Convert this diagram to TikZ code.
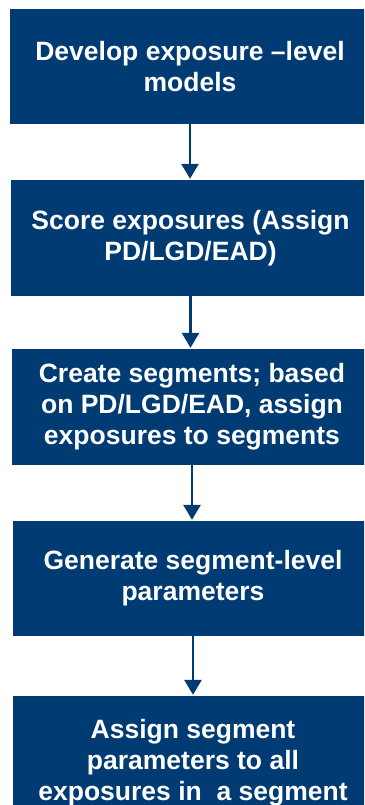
\documentclass[tikz,border=0pt]{standalone}
\usepackage{fontspec}
\setmainfont{Liberation Sans}
\usetikzlibrary{arrows.meta}
\definecolor{navy}{RGB}{0,59,115}
\tikzset{
  stepbox/.style={fill=navy, draw=none, text=white, inner sep=0pt,
    minimum width=360pt, align=center,
    font=\fontsize{26.5}{31}\selectfont\bfseries},
  flow/.style={draw=navy, line width=2.8pt,
    -{Triangle[width=17pt,length=15pt]}, shorten >=1pt}
}
\begin{document}
\begin{tikzpicture}[x=1pt,y=-1pt]
  \useasboundingbox (0,0) rectangle (364,805);
  \begin{scope}
    \clip (0,0) rectangle (364,805);
    \node[stepbox, minimum height=115pt] (b1) at (190,66.5)
      {Develop exposure --level\\models};
    \node[stepbox, minimum height=116pt] (b2) at (190.5,238)
      {Score exposures (Assign\\PD/LGD/EAD)};
    \node[stepbox, minimum height=116pt] (b3) at (192,407)
      {Create segments; based\\on PD/LGD/EAD, assign\\exposures to segments};
    \node[stepbox, minimum height=115pt] (b4) at (193,578.5)
      {Generate segment-level\\parameters};
    \node[stepbox, minimum height=134pt] (b5) at (193,763)
      {Assign segment\\parameters to all\\exposures in\ \ a segment};
  \end{scope}
  \draw[flow] (b1.south) -- (b1.south |- b2.north);
  \draw[flow] (b2.south) -- (b2.south |- b3.north);
  \draw[flow] (b3.south) -- (b3.south |- b4.north);
  \draw[flow] (b4.south) -- (b4.south |- b5.north);
\end{tikzpicture}
\end{document}
